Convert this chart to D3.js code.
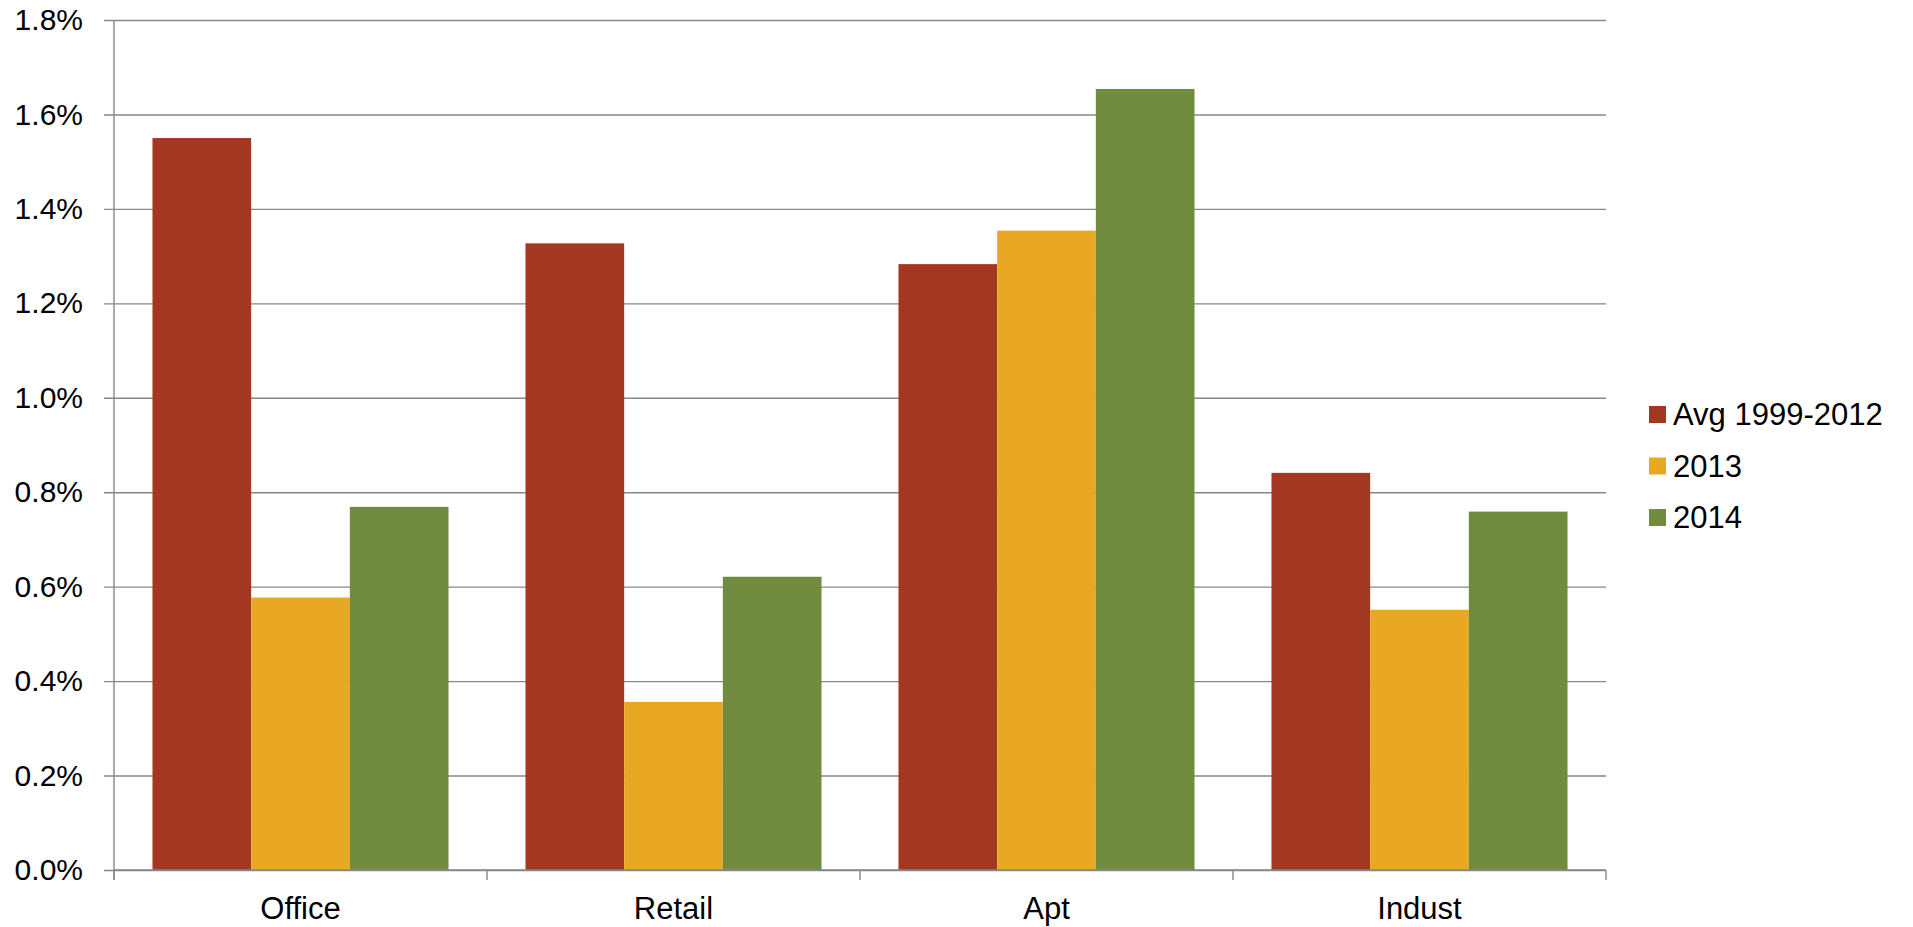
<!DOCTYPE html>
<html>
<head>
<meta charset="utf-8">
<script src="https://cdn.jsdelivr.net/npm/d3@7"></script>
<style>
  html, body { margin: 0; padding: 0; background: #fff; }
  svg { display: block; font-family: "Liberation Sans", Arial, sans-serif; }
</style>
</head>
<body>
<svg id="chart" width="1913" height="927"></svg>
<script>
// Property types along the x axis
const categories = ["Office", "Retail", "Apt", "Indust"];
// Series names as shown in the legend
const seriesNames = ["Avg 1999-2012", "2013", "2014"];
// Values in percent, one per category
const avgValues = [1.55, 1.327, 1.283, 0.841];
const values2013 = [0.577, 0.356, 1.354, 0.551];
const values2014 = [0.769, 0.621, 1.654, 0.759];
const seriesColors = ["#A23722", "#E9A823", "#718B3F"];
const yTicks = [0, 0.2, 0.4, 0.6, 0.8, 1.0, 1.2, 1.4, 1.6, 1.8];

const seriesValues = [avgValues, values2013, values2014];

const svg = d3.select("#chart");
const margin = { left: 114, right: 1913 - 1606, top: 20, bottom: 927 - 870 };
const width = 1913 - margin.left - margin.right;
const height = 927 - margin.top - margin.bottom;
const g = svg.append("g").attr("transform", `translate(${margin.left},${margin.top})`);

const x = d3.scaleBand().domain(categories).range([0, width]).paddingInner(0).paddingOuter(0);
const xs = d3.scaleBand().domain(d3.range(seriesNames.length)).range([0, x.bandwidth()])
  .paddingInner(0).paddingOuter(0.39);
const y = d3.scaleLinear().domain([0, 1.8]).range([height, 0]);

const gridColor = "#878787";

// Horizontal gridlines with short ticks to the left of the axis
const yAxis = d3.axisLeft(y).tickValues(yTicks).tickSize(-width).tickPadding(0)
  .tickFormat(d => d.toFixed(1) + "%");
const yG = g.append("g").call(yAxis);
yG.select(".domain").remove();
yG.selectAll(".tick line").attr("x1", -10).attr("stroke", gridColor).attr("stroke-width", 1.4);
yG.selectAll(".tick text").attr("x", -31).attr("fill", "#000")
  .style("font-size", "30px").style("font-family", "'Liberation Sans', Arial, sans-serif");

// Bars
const groups = g.selectAll(".cat").data(categories).join("g")
  .attr("class", "cat")
  .attr("transform", d => `translate(${x(d)},0)`);
groups.selectAll("rect")
  .data((c, ci) => seriesValues.map((vals, si) => ({ si, v: vals[ci] })))
  .join("rect")
  .attr("x", d => xs(d.si))
  .attr("width", xs.bandwidth())
  .attr("y", d => y(d.v))
  .attr("height", d => y(0) - y(d.v))
  .attr("fill", d => seriesColors[d.si]);

// Vertical axis line
g.append("line").attr("x1", 0).attr("x2", 0).attr("y1", 0).attr("y2", height + 10)
  .attr("stroke", gridColor).attr("stroke-width", 1.4);

// Bottom axis: baseline, boundary ticks and category labels
const boundaries = categories.map(c => x(c)).concat([width]);
g.append("line").attr("x1", 0).attr("x2", width).attr("y1", height).attr("y2", height)
  .attr("stroke", gridColor).attr("stroke-width", 1.4);
g.selectAll(".xtick").data(boundaries).join("line")
  .attr("class", "xtick")
  .attr("x1", d => d).attr("x2", d => d)
  .attr("y1", height).attr("y2", height + 10)
  .attr("stroke", gridColor).attr("stroke-width", 1.4);
g.selectAll(".xlabel").data(categories).join("text")
  .attr("class", "xlabel")
  .attr("x", d => x(d) + x.bandwidth() / 2)
  .attr("y", height + 49)
  .attr("text-anchor", "middle")
  .style("font-size", "31px")
  .attr("fill", "#000")
  .text(d => d);

// Legend
const legend = svg.append("g").attr("transform", "translate(1649,406)");
const item = legend.selectAll("g").data(seriesNames).join("g")
  .attr("transform", (d, i) => `translate(0,${i * 51.5})`);
item.append("rect").attr("width", 17).attr("height", 17)
  .attr("fill", (d, i) => seriesColors[i]);
item.append("text").attr("x", 24).attr("y", 19)
  .style("font-size", "31px").attr("fill", "#000")
  .text(d => d);
</script>
</body>
</html>
